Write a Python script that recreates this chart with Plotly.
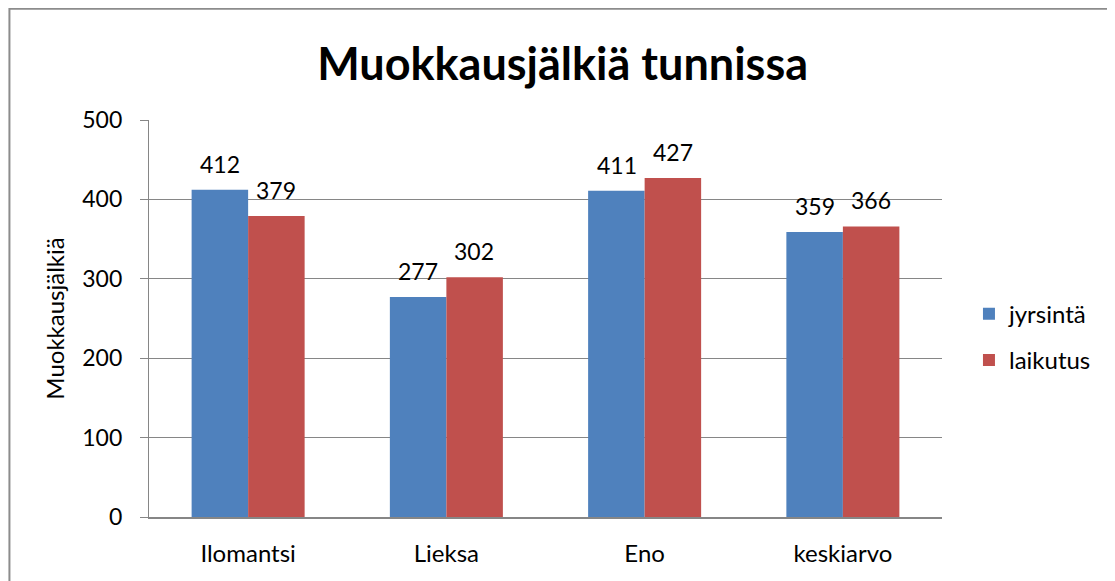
import plotly.graph_objects as go

paikat = ["Ilomantsi", "Lieksa", "Eno", "keskiarvo"]
jyrsinta = [412, 277, 411, 359]
laikutus = [379, 302, 427, 366]
y_ticks = [0, 100, 200, 300, 400, 500]

font = "Lato, Open Sans, sans-serif"
sarjat = [("jyrsintä", jyrsinta, "#4F81BD", -28), ("laikutus", laikutus, "#C0504D", 28)]

fig = go.Figure()
for nimi, arvot, vari, siirto in sarjat:
    fig.add_trace(go.Bar(x=paikat, y=arvot, name=nimi, marker_color=vari,
                         marker_line_width=0, legendgroup=nimi))
    # arvot pylväiden yläpuolelle
    for p, a in zip(paikat, arvot):
        fig.add_annotation(x=p, y=a, text=str(a), showarrow=False, xshift=siirto,
                           yanchor="bottom", yshift=10,
                           font=dict(size=23, color="black", family=font))

# sivun marginaali siirtää kuvaa 8 px, joten mitat on vähennetty sen verran
fig.update_layout(
    width=1107, height=573,
    margin=dict(l=141, r=173, t=112, b=64),
    paper_bgcolor="white", plot_bgcolor="white",
    barmode="group", bargap=0.43, bargroupgap=0,
    font=dict(family=font, size=23, color="black"),
    title=dict(text="<b>Muokkausjälkiä tunnissa</b>", x=0.501, xanchor="center",
               y=0.902, yanchor="middle", font=dict(size=45, family=font)),
    legend=dict(x=1.034, y=0.453, yanchor="middle", xanchor="left",
                font=dict(size=24, family=font), tracegroupgap=12,
                itemwidth=30),
    showlegend=True,
)
fig.update_xaxes(showline=True, linecolor="#868686", linewidth=2, ticks="",
                 tickfont=dict(size=24), ticklabelstandoff=14)
fig.update_yaxes(range=[0, 500], tickvals=y_ticks, showgrid=True, gridcolor="#868686",
                 gridwidth=1.3, showline=True, linecolor="#868686", linewidth=1.3,
                 ticks="outside", ticklen=8, tickcolor="#868686", tickfont=dict(size=23),
                 ticklabelstandoff=13,
                 title=dict(text="Muokkausjälkiä", font=dict(size=24), standoff=10),
                 zeroline=False)
fig.add_shape(type="rect", xref="paper", yref="paper",
              x0=-0.176, x1=1.25, y0=-0.25, y1=1.28,
              line=dict(color="#8c8c8c", width=2))
fig.write_html("out.html")
